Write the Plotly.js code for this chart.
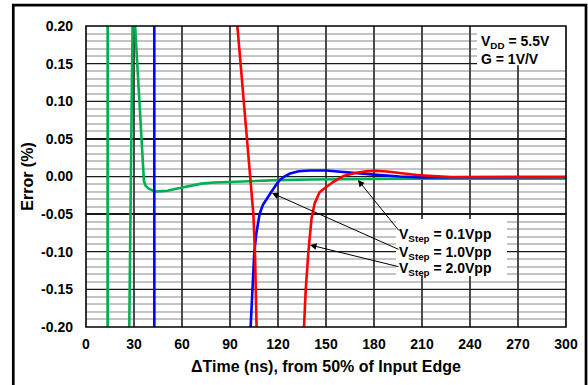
<!DOCTYPE html>
<html>
<head>
<meta charset="utf-8">
<script src="https://cdn.plot.ly/plotly-3.0.1.min.js"></script>
<style>
  html, body { margin: 0; padding: 0; background: white; }
  #chart { width: 588px; height: 385px; }
</style>
</head>
<body>
<div id="chart"></div>
<script>
// ---- Data ----
// Time (ns) from 50% of input edge, error (%)
const timeGreen = [0, 13.45, 13.55, 13.65, 25.0, 29.6, 30.7, 33.0, 35.4, 36.2, 37.2, 39.0, 42.0, 44.0, 47.0, 51.0, 55.0, 60.0, 66.0, 72.0, 80.0, 90.0, 100.0, 120.0, 140.0, 160.0, 200.0, 250.0, 300.0];
const errGreen  = [-0.6, -0.6, 0.6, -0.6, -0.6, 0.3, 0.2, 0.11, 0.012, -0.006, -0.012, -0.016, -0.019, -0.020, -0.0195, -0.019, -0.017, -0.015, -0.012, -0.0095, -0.008, -0.007, -0.006, -0.0048, -0.004, -0.0035, -0.003, -0.003, -0.003];

const timeBlue = [0, 42.65, 42.75, 102.3, 102.9, 104.0, 105.2, 106.5, 108.5, 110.5, 113.0, 116.0, 118.5, 121.0, 124.0, 127.5, 133.0, 140.0, 150.0, 160.0, 170.0, 180.0, 196.0, 210.0, 228.0, 250.0, 300.0];
const errBlue  = [0.6, 0.6, -0.6, -0.26, -0.2, -0.15, -0.1, -0.075, -0.05, -0.038, -0.029, -0.02, -0.012, -0.005, 0.0, 0.004, 0.007, 0.008, 0.008, 0.0065, 0.0045, 0.0025, 0.0, -0.0012, -0.001, -0.0007, -0.0007];

const timeRed = [0, 90.6, 94.6, 98.7, 102.9, 104.6, 105.6, 106.25, 106.7, 107.2, 135.0, 136.25, 137.3, 139.0, 141.0, 143.0, 146.0, 148.3, 151.5, 154.6, 158.0, 161.0, 165.0, 169.0, 175.0, 181.0, 188.0, 196.0, 207.0, 217.0, 228.0, 250.0, 300.0];
const errRed  = [0.6, 0.3, 0.2, 0.1, -0.005, -0.05, -0.1, -0.15, -0.2, -0.26, -0.26, -0.2, -0.151, -0.1, -0.055, -0.035, -0.021, -0.017, -0.012, -0.007, -0.003, 0.0007, 0.003, 0.005, 0.0068, 0.0077, 0.0066, 0.0043, 0.002, 0.0007, -0.0007, -0.0007, -0.0007];

const seriesNames = ['VStep = 0.1Vpp', 'VStep = 1.0Vpp', 'VStep = 2.0Vpp'];
const seriesColors = ['#00b050', '#0000ff', '#ff0000'];

const xTickVals = [0, 30, 60, 90, 120, 150, 180, 210, 240, 270, 300];
const yTickVals = [-0.20, -0.15, -0.10, -0.05, 0.00, 0.05, 0.10, 0.15, 0.20];
const yTickText = ['-0.20', '-0.15', '-0.10', '-0.05', '0.00', '0.05', '0.10', '0.15', '0.20'];

const xTitle = '\u0394Time (ns), from 50% of Input Edge';
const yTitle = 'Error (%)';
const condText = 'V<sub>DD</sub> = 5.5V<br>G = 1V/V';
const labelTexts = ['V<sub>Step</sub> = 0.1Vpp', 'V<sub>Step</sub> = 1.0Vpp', 'V<sub>Step</sub> = 2.0Vpp'];
// arrow heads (on curves) and tails (at labels), data coordinates
const arrowHeadX = [170.0, 116.25, 140.0];
const arrowHeadY = [-0.0047, -0.022, -0.091];
const arrowTailX = [196.25, 196.25, 196.25];
const arrowTailY = [-0.0738, -0.0977, -0.1203];
const labelY = [-0.0777, -0.1016, -0.1229];

// ---- Chart ----
const FONT = 'Liberation Sans, Arial, Helvetica, sans-serif';
const boldFont = (size) => ({family: FONT, size: size, color: 'black', weight: 700});

const traces = [
  {x: timeGreen, y: errGreen, name: seriesNames[0], line: {color: seriesColors[0], width: 2.6}},
  {x: timeBlue, y: errBlue, name: seriesNames[1], line: {color: seriesColors[1], width: 2.6}},
  {x: timeRed, y: errRed, name: seriesNames[2], line: {color: seriesColors[2], width: 2.6}}
].map(t => Object.assign({type: 'scatter', mode: 'lines', hoverinfo: 'skip', cliponaxis: true}, t));

const annotations = [];
annotations.push({
  xref: 'x', yref: 'y', x: 246.0, y: 0.1915, xanchor: 'left', yanchor: 'top',
  text: condText, align: 'left', showarrow: false, font: boldFont(14), borderpad: 0
});
labelTexts.forEach((txt, i) => {
  annotations.push({
    xref: 'x', yref: 'y', x: 195.0, y: labelY[i], xanchor: 'left', yanchor: 'middle',
    text: txt, align: 'left', showarrow: false, font: boldFont(14), borderpad: 0
  });
  annotations.push({
    xref: 'x', yref: 'y', axref: 'x', ayref: 'y',
    x: arrowHeadX[i], y: arrowHeadY[i], ax: arrowTailX[i], ay: arrowTailY[i],
    text: '', showarrow: true, arrowhead: 2, arrowsize: 1.3, arrowwidth: 1,
    arrowcolor: 'black', standoff: 0, startstandoff: 0
  });
});

const shapes = [
  // white boxes behind the text blocks
  {type: 'rect', xref: 'x', yref: 'y', x0: 244.4, x1: 300, y0: 0.148, y1: 0.2,
   fillcolor: 'white', line: {width: 0}, layer: 'above'},
  {type: 'rect', xref: 'x', yref: 'y', x0: 193.75, x1: 263.1, y0: -0.1322, y1: -0.0565,
   fillcolor: 'white', line: {width: 0}, layer: 'above'},
  // plot frame
  {type: 'rect', xref: 'paper', yref: 'paper', x0: 0, x1: 1, y0: 0, y1: 1,
   line: {color: 'black', width: 1.6}, fillcolor: 'rgba(0,0,0,0)', layer: 'above'},
  // outer figure border
  {type: 'rect', xref: 'paper', yref: 'paper', x0: -0.1515, x1: 1.0417, y0: -0.2093, y1: 1.0691,
   line: {color: 'black', width: 2.7}, fillcolor: 'rgba(0,0,0,0)', layer: 'above'}
];

const layout = {
  width: 588, height: 385,
  margin: {l: 86, r: 22, t: 26, b: 58, pad: 0},
  paper_bgcolor: 'white', plot_bgcolor: 'white',
  showlegend: false,
  font: boldFont(14),
  xaxis: {
    range: [0, 300], tickvals: xTickVals, ticks: '',
    showgrid: true, gridcolor: '#4a4a4a', gridwidth: 1.3,
    zeroline: false, showline: false,
    tickfont: boldFont(14), ticklabelstandoff: 7,
    title: {text: xTitle, font: boldFont(16), standoff: 9},
    fixedrange: true
  },
  yaxis: {
    range: [-0.2, 0.2], tickvals: yTickVals, ticktext: yTickText, ticks: '',
    showgrid: true, gridcolor: '#1a1a1a', gridwidth: 1.3,
    zeroline: false, showline: false,
    minor: {dtick: 0.01, tick0: 0, showgrid: true, gridcolor: '#c4c4c4', gridwidth: 2, ticks: ''},
    tickfont: boldFont(14), ticklabelstandoff: 12,
    title: {text: yTitle, font: boldFont(16), standoff: 3},
    fixedrange: true
  },
  annotations: annotations,
  shapes: shapes
};

Plotly.newPlot('chart', traces, layout, {displayModeBar: false, staticPlot: true});
</script>
</body>
</html>
